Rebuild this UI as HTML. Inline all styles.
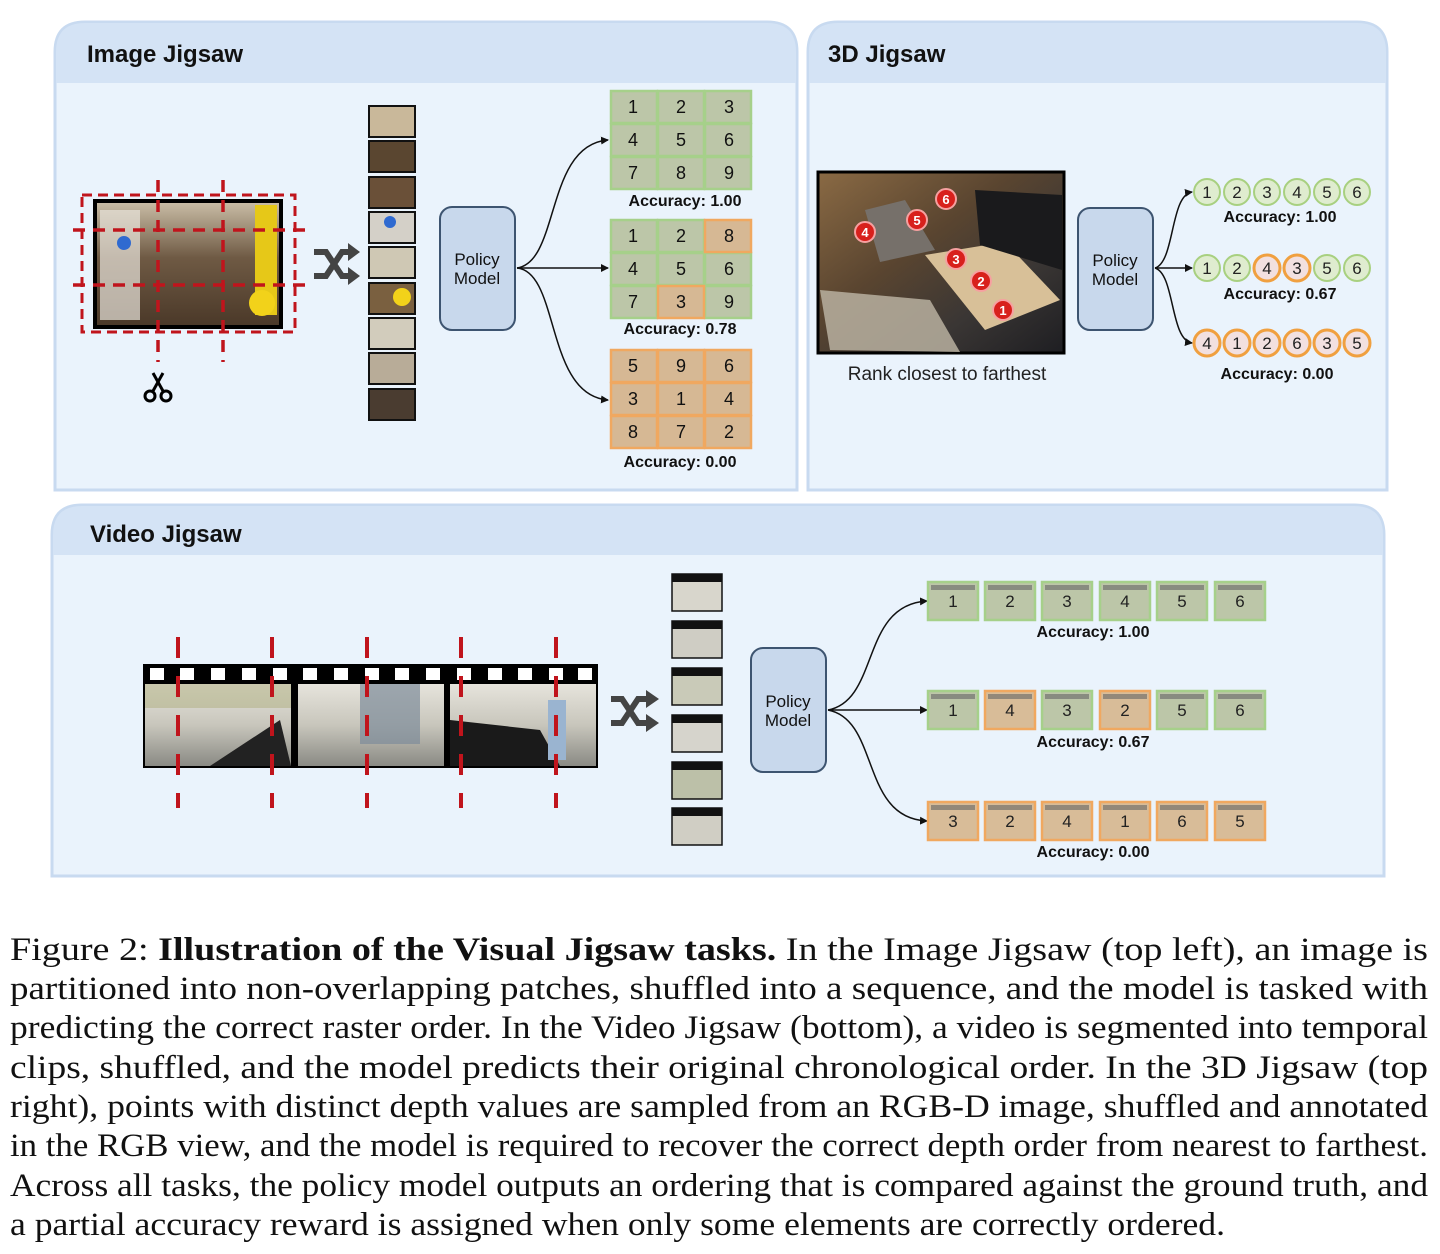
<!DOCTYPE html>
<html><head><meta charset="utf-8"><style>
html,body{margin:0;padding:0;background:#fff;}
svg{display:block}
.t{font-family:"Liberation Sans",sans-serif;}
</style></head><body>
<svg width="1440" height="1254" viewBox="0 0 1440 1254" xmlns="http://www.w3.org/2000/svg">
<defs>
<marker id="ah" markerWidth="8" markerHeight="8" refX="7" refY="4" orient="auto" markerUnits="userSpaceOnUse"><path d="M0,0 L8,4 L0,8 z" fill="#111"/></marker>
<linearGradient id="room" x1="0" y1="0" x2="0" y2="1"><stop offset="0" stop-color="#cbbfa8"/><stop offset="0.45" stop-color="#6f5a44"/><stop offset="1" stop-color="#4a3828"/></linearGradient>
<linearGradient id="lounge" x1="0" y1="0" x2="1" y2="1"><stop offset="0" stop-color="#8a6a44"/><stop offset="0.4" stop-color="#5a4530"/><stop offset="0.7" stop-color="#3a3634"/><stop offset="1" stop-color="#1e1e22"/></linearGradient>
<linearGradient id="kitchen" x1="0" y1="0" x2="0" y2="1"><stop offset="0" stop-color="#e6e4dc"/><stop offset="0.5" stop-color="#c8c6bc"/><stop offset="1" stop-color="#8a8a84"/></linearGradient>
</defs>

<path d="M55,490 V52 Q55,22 85,22 H767 Q797,22 797,52 V490 Z" fill="#eaf3fc" stroke="#c8daf0" stroke-width="3"/>
<path d="M56,83 V52 Q56,23 85,23 H767 Q796,23 796,52 V83 Z" fill="#d4e3f5"/>
<text x="87" y="62" class="t" font-size="24" font-weight="bold" fill="#111">Image Jigsaw</text>

<path d="M808,490 V52 Q808,22 838,22 H1357 Q1387,22 1387,52 V490 Z" fill="#eaf3fc" stroke="#c8daf0" stroke-width="3"/>
<path d="M809,83 V52 Q809,23 838,23 H1357 Q1386,23 1386,52 V83 Z" fill="#d4e3f5"/>
<text x="828" y="62" class="t" font-size="24" font-weight="bold" fill="#111">3D Jigsaw</text>

<path d="M52,876 V535 Q52,505 82,505 H1354 Q1384,505 1384,535 V876 Z" fill="#eaf3fc" stroke="#c8daf0" stroke-width="3"/>
<path d="M53,555 V535 Q53,506 82,506 H1354 Q1383,506 1383,535 V555 Z" fill="#d4e3f5"/>
<text x="90" y="542" class="t" font-size="24" font-weight="bold" fill="#111">Video Jigsaw</text>

<rect x="95" y="201" width="186" height="126" fill="url(#room)" stroke="#000" stroke-width="4"/>
<rect x="100" y="210" width="40" height="110" fill="#e8e4dc" opacity="0.7"/>
<rect x="255" y="205" width="22" height="110" fill="#e6c818"/>
<circle cx="262" cy="303" r="13" fill="#f2d21a"/>
<circle cx="124" cy="243" r="7" fill="#2f6ad0"/>
<rect x="82" y="195" width="213" height="137" fill="none" stroke="#c0141c" stroke-width="3" stroke-dasharray="10,6"/>
<g stroke="#c0141c" stroke-width="3.5" stroke-dasharray="12,8">
<line x1="158" y1="180" x2="158" y2="362"/><line x1="223" y1="180" x2="223" y2="362"/>
<line x1="73" y1="230" x2="305" y2="230"/><line x1="73" y1="285" x2="305" y2="285"/>
</g>
<g stroke="#000" stroke-width="3" fill="none"><circle cx="150" cy="396" r="5"/><circle cx="166" cy="396" r="5"/><line x1="153" y1="391" x2="163" y2="373"/><line x1="163" y1="391" x2="153" y2="373"/></g>
<g fill="none" stroke="#444" stroke-width="6"><path d="M314,252 H326 L342,276 H350"/><path d="M314,276 H326 L342,252 H350"/></g>
<path d="M348,243 L360,252 L348,261 Z M348,267 L360,276 L348,285 Z" fill="#444"/>
<g stroke="#111" stroke-width="2">
<rect x="369" y="106" width="46" height="31" fill="#c9b89a"/>
<rect x="369" y="141" width="46" height="31" fill="#5a4630"/>
<rect x="369" y="177" width="46" height="31" fill="#6a5038"/>
<rect x="369" y="212" width="46" height="31" fill="#d4d0c8"/>
<rect x="369" y="247" width="46" height="31" fill="#cfc8b4"/>
<rect x="369" y="283" width="46" height="31" fill="#7a6040"/>
<rect x="369" y="318" width="46" height="31" fill="#d2ccbc"/>
<rect x="369" y="353" width="46" height="31" fill="#b8ac98"/>
<rect x="369" y="389" width="46" height="31" fill="#4a3c30"/>
</g>
<circle cx="402" cy="297" r="9" fill="#f2d21a"/><circle cx="390" cy="222" r="6" fill="#2f6ad0"/>
<rect x="440" y="207" width="75" height="123" rx="12" fill="#c8d8ec" stroke="#3d5470" stroke-width="2"/>
<text x="477" y="265" class="t" font-size="17" text-anchor="middle" fill="#111">Policy</text>
<text x="477" y="284" class="t" font-size="17" text-anchor="middle" fill="#111">Model</text>
<g fill="none" stroke="#111" stroke-width="1.5" marker-end="url(#ah)">
<path d="M517,268 C560,262 545,145 608,140"/>
<path d="M517,268 H608"/>
<path d="M517,268 C560,272 545,395 608,400"/>
</g>
<g class="t" font-size="18" text-anchor="middle" fill="#111" stroke-width="2.5">
<g stroke="#a6d08a" fill="#bcc6a8">
<rect x="611" y="91" width="46" height="32"/><rect x="658" y="91" width="46" height="32"/><rect x="705" y="91" width="46" height="32"/>
<rect x="611" y="124" width="46" height="32"/><rect x="658" y="124" width="46" height="32"/><rect x="705" y="124" width="46" height="32"/>
<rect x="611" y="157" width="46" height="32"/><rect x="658" y="157" width="46" height="32"/><rect x="705" y="157" width="46" height="32"/>
<rect x="611" y="220" width="46" height="32"/><rect x="658" y="220" width="46" height="32"/>
<rect x="611" y="253" width="46" height="32"/><rect x="658" y="253" width="46" height="32"/><rect x="705" y="253" width="46" height="32"/>
<rect x="611" y="286" width="46" height="32"/><rect x="705" y="286" width="46" height="32"/>
</g>
<g stroke="#f0a860" fill="#d6b894">
<rect x="705" y="220" width="46" height="32"/><rect x="658" y="286" width="46" height="32"/>
<rect x="611" y="350" width="46" height="32"/><rect x="658" y="350" width="46" height="32"/><rect x="705" y="350" width="46" height="32"/>
<rect x="611" y="383" width="46" height="32"/><rect x="658" y="383" width="46" height="32"/><rect x="705" y="383" width="46" height="32"/>
<rect x="611" y="416" width="46" height="32"/><rect x="658" y="416" width="46" height="32"/><rect x="705" y="416" width="46" height="32"/>
</g>
<g stroke="none">
<text x="633" y="113">1</text><text x="681" y="113">2</text><text x="729" y="113">3</text>
<text x="633" y="146">4</text><text x="681" y="146">5</text><text x="729" y="146">6</text>
<text x="633" y="179">7</text><text x="681" y="179">8</text><text x="729" y="179">9</text>
<text x="633" y="242">1</text><text x="681" y="242">2</text><text x="729" y="242">8</text>
<text x="633" y="275">4</text><text x="681" y="275">5</text><text x="729" y="275">6</text>
<text x="633" y="308">7</text><text x="681" y="308">3</text><text x="729" y="308">9</text>
<text x="633" y="372">5</text><text x="681" y="372">9</text><text x="729" y="372">6</text>
<text x="633" y="405">3</text><text x="681" y="405">1</text><text x="729" y="405">4</text>
<text x="633" y="438">8</text><text x="681" y="438">7</text><text x="729" y="438">2</text>
</g>
</g>
<g class="t" font-size="16" font-weight="bold" text-anchor="middle" fill="#111">
<text x="685" y="206">Accuracy: 1.00</text>
<text x="680" y="334">Accuracy: 0.78</text>
<text x="680" y="467">Accuracy: 0.00</text>
</g>

<rect x="818" y="172" width="246" height="181" fill="url(#lounge)" stroke="#000" stroke-width="3"/>
<path d="M820,290 L830,350 L960,352 L930,300 Z" fill="#b8b0a0" opacity="0.85"/>
<path d="M865,210 L905,200 L935,250 L880,262 Z" fill="#76706a"/>
<path d="M925,255 L1005,242 L1060,300 L985,330 Z" fill="#d8c098"/>
<path d="M975,190 L1062,195 L1062,270 L980,245 Z" fill="#1a1a1c"/>
<g class="t" font-size="13" font-weight="bold" fill="#fff" text-anchor="middle">
<circle cx="1003" cy="310" r="10" fill="#d8201c" stroke="#f6a0a0" stroke-width="2"/><text x="1003" y="315">1</text>
<circle cx="981" cy="281" r="10" fill="#d8201c" stroke="#f6a0a0" stroke-width="2"/><text x="981" y="286">2</text>
<circle cx="956" cy="259" r="10" fill="#d8201c" stroke="#f6a0a0" stroke-width="2"/><text x="956" y="264">3</text>
<circle cx="865" cy="232" r="10" fill="#d8201c" stroke="#f6a0a0" stroke-width="2"/><text x="865" y="237">4</text>
<circle cx="917" cy="220" r="10" fill="#d8201c" stroke="#f6a0a0" stroke-width="2"/><text x="917" y="225">5</text>
<circle cx="946" cy="199" r="10" fill="#d8201c" stroke="#f6a0a0" stroke-width="2"/><text x="946" y="204">6</text>
</g>
<text x="947" y="380" class="t" font-size="19" text-anchor="middle" fill="#222">Rank closest to farthest</text>
<rect x="1078" y="208" width="75" height="122" rx="12" fill="#c8d8ec" stroke="#3d5470" stroke-width="2"/>
<text x="1115" y="266" class="t" font-size="17" text-anchor="middle" fill="#111">Policy</text>
<text x="1115" y="285" class="t" font-size="17" text-anchor="middle" fill="#111">Model</text>
<g fill="none" stroke="#111" stroke-width="1.5" marker-end="url(#ah)">
<path d="M1155,268 C1175,262 1170,195 1192,192"/>
<path d="M1155,268 H1192"/>
<path d="M1155,268 C1175,274 1170,340 1192,343"/>
</g>
<g class="t" font-size="17" text-anchor="middle" fill="#222">
<g fill="#dfeccf" stroke="#a8d080" stroke-width="2">
<circle cx="1207" cy="192" r="13"/><circle cx="1237" cy="192" r="13"/><circle cx="1267" cy="192" r="13"/><circle cx="1297" cy="192" r="13"/><circle cx="1327" cy="192" r="13"/><circle cx="1357" cy="192" r="13"/>
<circle cx="1207" cy="268" r="13"/><circle cx="1237" cy="268" r="13"/><circle cx="1327" cy="268" r="13"/><circle cx="1357" cy="268" r="13"/>
</g>
<g fill="#f2e0e0" stroke="#f0a040" stroke-width="3">
<circle cx="1267" cy="268" r="13"/><circle cx="1297" cy="268" r="13"/>
<circle cx="1207" cy="343" r="13"/><circle cx="1237" cy="343" r="13"/><circle cx="1267" cy="343" r="13"/><circle cx="1297" cy="343" r="13"/><circle cx="1327" cy="343" r="13"/><circle cx="1357" cy="343" r="13"/>
</g>
<text x="1207" y="198">1</text><text x="1237" y="198">2</text><text x="1267" y="198">3</text><text x="1297" y="198">4</text><text x="1327" y="198">5</text><text x="1357" y="198">6</text>
<text x="1207" y="274">1</text><text x="1237" y="274">2</text><text x="1267" y="274">4</text><text x="1297" y="274">3</text><text x="1327" y="274">5</text><text x="1357" y="274">6</text>
<text x="1207" y="349">4</text><text x="1237" y="349">1</text><text x="1267" y="349">2</text><text x="1297" y="349">6</text><text x="1327" y="349">3</text><text x="1357" y="349">5</text>
</g>
<g class="t" font-size="16" font-weight="bold" text-anchor="middle" fill="#111">
<text x="1280" y="222">Accuracy: 1.00</text>
<text x="1280" y="299">Accuracy: 0.67</text>
<text x="1277" y="379">Accuracy: 0.00</text>
</g>

<rect x="143" y="664" width="455" height="104" fill="#000"/>
<g fill="#fff">
<rect x="150" y="668" width="14" height="12"/><rect x="180" y="668" width="14" height="12"/><rect x="211" y="668" width="14" height="12"/><rect x="242" y="668" width="14" height="12"/><rect x="273" y="668" width="14" height="12"/><rect x="303" y="668" width="14" height="12"/><rect x="334" y="668" width="14" height="12"/><rect x="365" y="668" width="14" height="12"/><rect x="395" y="668" width="14" height="12"/><rect x="426" y="668" width="14" height="12"/><rect x="457" y="668" width="14" height="12"/><rect x="488" y="668" width="14" height="12"/><rect x="518" y="668" width="14" height="12"/><rect x="549" y="668" width="14" height="12"/><rect x="578" y="668" width="14" height="12"/>
</g>
<rect x="145" y="684" width="146" height="82" fill="url(#kitchen)"/>
<rect x="298" y="684" width="146" height="82" fill="url(#kitchen)"/>
<rect x="450" y="684" width="146" height="82" fill="url(#kitchen)"/>
<rect x="145" y="684" width="146" height="24" fill="#b4b48a" opacity="0.6"/>
<path d="M210,766 L280,720 L291,766 Z" fill="#222"/><path d="M450,720 L540,730 L560,766 L450,766 Z" fill="#1a1a1a"/>
<rect x="360" y="684" width="60" height="60" fill="#7d8c9a" opacity="0.7"/>
<rect x="548" y="700" width="18" height="60" fill="#9ab4d0"/>
<g stroke="#c0141c" stroke-width="4" stroke-dasharray="21,18">
<line x1="178" y1="637" x2="178" y2="808"/><line x1="272" y1="637" x2="272" y2="808"/><line x1="367" y1="637" x2="367" y2="808"/><line x1="461" y1="637" x2="461" y2="808"/><line x1="556" y1="637" x2="556" y2="808"/>
</g>
<g fill="none" stroke="#444" stroke-width="6"><path d="M611,699 H622 L638,723 H648"/><path d="M611,723 H622 L638,699 H648"/></g>
<path d="M646,690 L659,699 L646,708 Z M646,714 L659,723 L646,732 Z" fill="#444"/>
<g>
<rect x="672" y="574" width="50" height="37" fill="#d8d6cc" stroke="#111" stroke-width="1.5"/>
<rect x="672" y="621" width="50" height="37" fill="#cfcdc4" stroke="#111" stroke-width="1.5"/>
<rect x="672" y="668" width="50" height="37" fill="#c9cab8" stroke="#111" stroke-width="1.5"/>
<rect x="672" y="715" width="50" height="37" fill="#d6d4cc" stroke="#111" stroke-width="1.5"/>
<rect x="672" y="762" width="50" height="37" fill="#bcc0a8" stroke="#111" stroke-width="1.5"/>
<rect x="672" y="808" width="50" height="37" fill="#d0cec4" stroke="#111" stroke-width="1.5"/>
<g fill="#111"><rect x="672" y="574" width="50" height="8"/><rect x="672" y="621" width="50" height="8"/><rect x="672" y="668" width="50" height="8"/><rect x="672" y="715" width="50" height="8"/><rect x="672" y="762" width="50" height="8"/><rect x="672" y="808" width="50" height="8"/></g>
</g>
<rect x="751" y="648" width="75" height="124" rx="12" fill="#c8d8ec" stroke="#3d5470" stroke-width="2"/>
<text x="788" y="707" class="t" font-size="17" text-anchor="middle" fill="#111">Policy</text>
<text x="788" y="726" class="t" font-size="17" text-anchor="middle" fill="#111">Model</text>
<g fill="none" stroke="#111" stroke-width="1.5" marker-end="url(#ah)">
<path d="M828,710 C880,700 860,605 927,601"/>
<path d="M828,710 H927"/>
<path d="M828,710 C880,720 860,818 927,821"/>
</g>
<g class="t" font-size="17" text-anchor="middle" fill="#222">
<g stroke-width="2.5">
<g fill="#bcc6a8" stroke="#a6d08a">
<rect x="928" y="582" width="50" height="38"/><rect x="985" y="582" width="50" height="38"/><rect x="1042" y="582" width="50" height="38"/><rect x="1100" y="582" width="50" height="38"/><rect x="1157" y="582" width="50" height="38"/><rect x="1215" y="582" width="50" height="38"/>
<rect x="928" y="691" width="50" height="38"/><rect x="1042" y="691" width="50" height="38"/><rect x="1157" y="691" width="50" height="38"/><rect x="1215" y="691" width="50" height="38"/>
</g>
<g fill="#d8bc98" stroke="#f0a860">
<rect x="985" y="691" width="50" height="38"/><rect x="1100" y="691" width="50" height="38"/>
<rect x="928" y="802" width="50" height="38"/><rect x="985" y="802" width="50" height="38"/><rect x="1042" y="802" width="50" height="38"/><rect x="1100" y="802" width="50" height="38"/><rect x="1157" y="802" width="50" height="38"/><rect x="1215" y="802" width="50" height="38"/>
</g>
</g>
<g fill="#666" opacity="0.6">
<rect x="931" y="585" width="44" height="5"/><rect x="988" y="585" width="44" height="5"/><rect x="1045" y="585" width="44" height="5"/><rect x="1103" y="585" width="44" height="5"/><rect x="1160" y="585" width="44" height="5"/><rect x="1218" y="585" width="44" height="5"/>
<rect x="931" y="694" width="44" height="5"/><rect x="988" y="694" width="44" height="5"/><rect x="1045" y="694" width="44" height="5"/><rect x="1103" y="694" width="44" height="5"/><rect x="1160" y="694" width="44" height="5"/><rect x="1218" y="694" width="44" height="5"/>
<rect x="931" y="805" width="44" height="5"/><rect x="988" y="805" width="44" height="5"/><rect x="1045" y="805" width="44" height="5"/><rect x="1103" y="805" width="44" height="5"/><rect x="1160" y="805" width="44" height="5"/><rect x="1218" y="805" width="44" height="5"/>
</g>
<text x="953" y="607">1</text><text x="1010" y="607">2</text><text x="1067" y="607">3</text><text x="1125" y="607">4</text><text x="1182" y="607">5</text><text x="1240" y="607">6</text>
<text x="953" y="716">1</text><text x="1010" y="716">4</text><text x="1067" y="716">3</text><text x="1125" y="716">2</text><text x="1182" y="716">5</text><text x="1240" y="716">6</text>
<text x="953" y="827">3</text><text x="1010" y="827">2</text><text x="1067" y="827">4</text><text x="1125" y="827">1</text><text x="1182" y="827">6</text><text x="1240" y="827">5</text>
</g>
<g class="t" font-size="16" font-weight="bold" text-anchor="middle" fill="#111">
<text x="1093" y="637">Accuracy: 1.00</text>
<text x="1093" y="747">Accuracy: 0.67</text>
<text x="1093" y="857">Accuracy: 0.00</text>
</g>

<g font-family="'Liberation Serif',serif" font-size="33" fill="#111">
<text x="10" y="960" textLength="1418" lengthAdjust="spacingAndGlyphs">Figure 2:  <tspan font-weight="bold">Illustration of the Visual Jigsaw tasks.</tspan>  In the Image Jigsaw (top left), an image is</text>
<text x="10" y="999" textLength="1418" lengthAdjust="spacingAndGlyphs">partitioned into non-overlapping patches, shuffled into a sequence, and the model is tasked with</text>
<text x="10" y="1038" textLength="1418" lengthAdjust="spacingAndGlyphs">predicting the correct raster order. In the Video Jigsaw (bottom), a video is segmented into temporal</text>
<text x="10" y="1078" textLength="1418" lengthAdjust="spacingAndGlyphs">clips, shuffled, and the model predicts their original chronological order.  In the 3D Jigsaw (top</text>
<text x="10" y="1117" textLength="1418" lengthAdjust="spacingAndGlyphs">right), points with distinct depth values are sampled from an RGB-D image, shuffled and annotated</text>
<text x="10" y="1156" textLength="1418" lengthAdjust="spacingAndGlyphs">in the RGB view, and the model is required to recover the correct depth order from nearest to farthest.</text>
<text x="10" y="1196" textLength="1418" lengthAdjust="spacingAndGlyphs">Across all tasks, the policy model outputs an ordering that is compared against the ground truth, and</text>
<text x="10" y="1235" textLength="1215" lengthAdjust="spacingAndGlyphs">a partial accuracy reward is assigned when only some elements are correctly ordered.</text>
</g>
</svg>
</body></html>
